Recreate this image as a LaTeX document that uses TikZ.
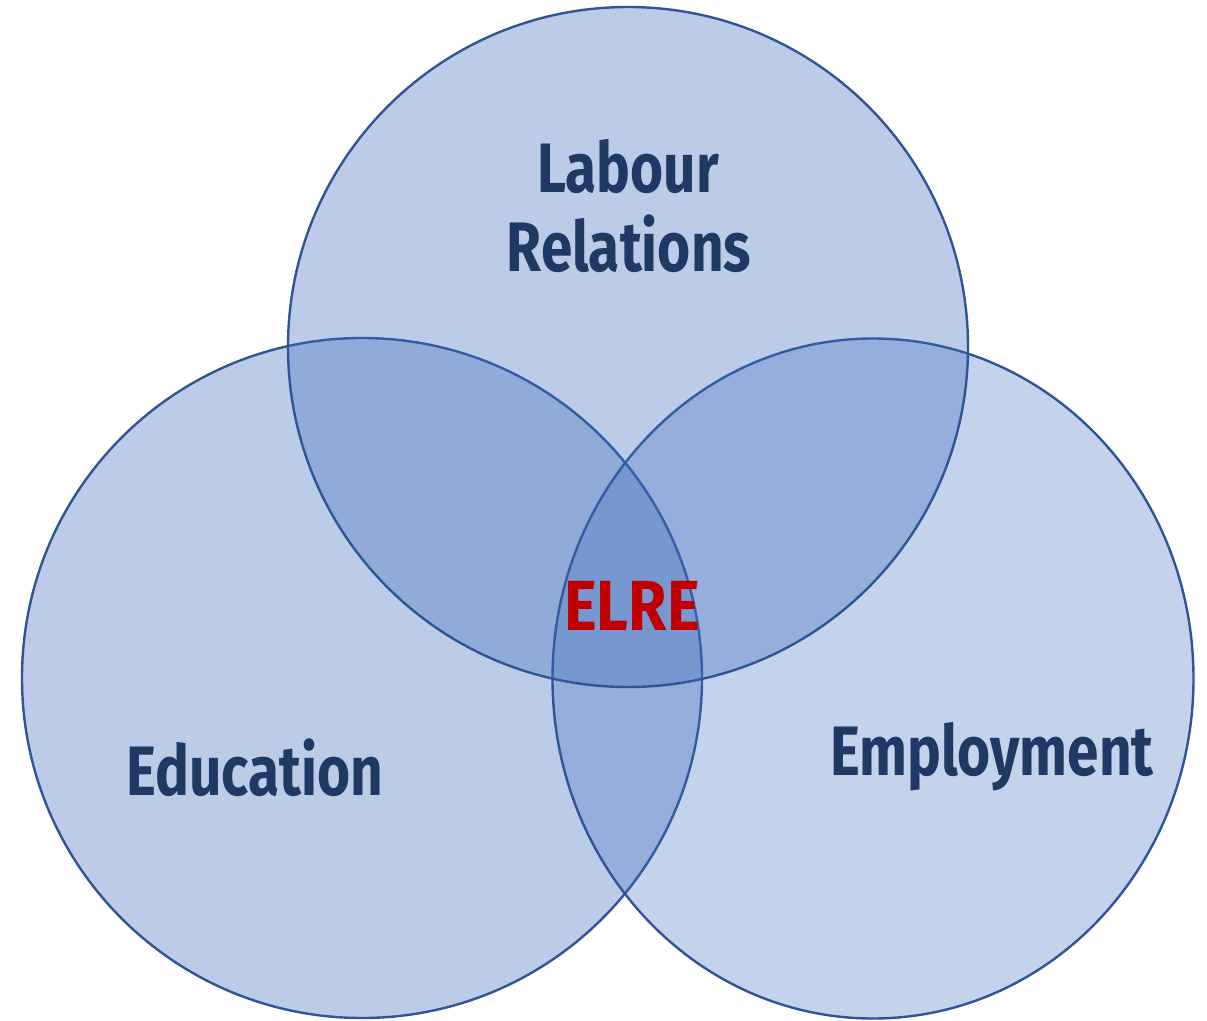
\documentclass[tikz,border=0pt]{standalone}
\usepackage{fontspec}
\setmainfont{Fira Sans}[FakeStretch=0.81,BoldFont={Fira Sans Bold}]
\usetikzlibrary{shapes.geometric}
\definecolor{vfill}{HTML}{3C6ABC}
\definecolor{vline}{HTML}{2F5597}
\definecolor{vtext}{HTML}{1F3864}
\definecolor{vred}{HTML}{C00000}
\tikzset{
  setcircle/.style={circle, inner sep=0pt, outer sep=0pt, minimum size=680pt,
    draw=vline, line width=2.4pt, fill=vfill, fill opacity=#1, draw opacity=1},
  setellipse/.style={ellipse, inner sep=0pt, outer sep=0pt, minimum width=641pt, minimum height=680pt,
    draw=vline, line width=2.4pt, fill=vfill, fill opacity=#1, draw opacity=1},
  lbl/.style={anchor=base, text=vtext, font=\fontsize{70}{80}\selectfont\bfseries, inner sep=0pt},
  lblred/.style={anchor=base, text=vred, font=\fontsize{71}{80}\selectfont\bfseries, inner sep=0pt, xscale=1.08}
}
\begin{document}
\begin{tikzpicture}[x=1pt,y=-1pt]
\useasboundingbox (0,0) rectangle (1207,1020);
\node[setcircle=0.343] (edu) at (362,678) {};
\node[setellipse=0.30] (emp) at (873,678.5) {};
\node[setcircle=0.343] (lab) at (628,347) {};
\node[lbl] (t1) at (628,192) {Labour};
\node[lbl] (t2) at (629,271) {Relations};
\node[lbl] (t3) at (255,795) {Education};
\node[lbl] (t4) at (992,775) {Employment};
\node[lblred] (t5) at (632,630) {ELRE};
\end{tikzpicture}
\end{document}
